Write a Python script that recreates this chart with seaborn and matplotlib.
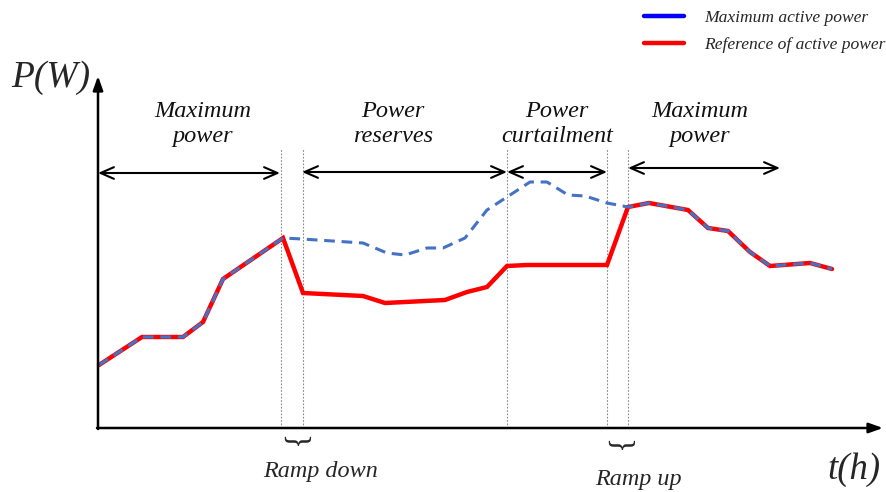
import matplotlib
matplotlib.use("Agg")
import matplotlib.pyplot as plt
import seaborn as sns
from matplotlib.lines import Line2D

sns.set_theme(style="white")
plt.rcParams['font.family'] = ['Liberation Serif', 'DejaVu Serif']

# ---- data (time in h, power in W) ----
t_ref = [0.1, 4.4, 8.5, 10.5, 12.5, 18.5, 20.5, 26.5, 28.7, 34.7, 36.9, 38.9, 40.9,
         42.9, 50.9, 53.0, 55.1, 59.0, 61.0, 63.0, 65.2, 67.2, 71.2, 73.4]
p_ref = [6.3, 9.1, 9.1, 10.6, 14.9, 19.0, 13.5, 13.2, 12.5, 12.8, 13.6, 14.1, 16.2,
         16.3, 16.3, 22.1, 22.5, 21.8, 20.0, 19.7, 17.6, 16.2, 16.5, 15.9]

t_max = [0.1, 4.4, 8.5, 10.5, 12.5, 18.5, 20.4, 26.5, 28.9, 30.7, 32.9, 34.5, 36.7,
         38.9, 40.9, 43.2, 44.9, 47.0, 48.7, 50.9, 53.0, 55.1, 59.0, 61.0, 63.0,
         65.2, 67.2, 71.2, 73.4]
p_max = [6.3, 9.1, 9.1, 10.6, 14.9, 19.0, 18.9, 18.5, 17.5, 17.3, 18.0, 18.0, 19.0,
         21.8, 23.1, 24.6, 24.6, 23.3, 23.2, 22.5, 22.1, 22.5, 21.8, 20.0, 19.7,
         17.6, 16.2, 16.5, 15.9]

boundaries = [18.3, 20.5, 40.9, 50.9, 53.0]
mode_labels = ["Maximum\npower", "Power\nreserves", "Power\ncurtailment", "Maximum\npower"]
mode_spans = [(0.0, 18.2), (20.4, 40.9), (40.9, 50.9), (53.0, 68.2)]
mode_label_x = [10.5, 29.5, 45.9, 60.2]
mode_arrow_y = [25.5, 25.6, 25.6, 26.0]

legend_labels = ["Maximum active power", "Reference of active power"]

# ---- figure ----
fig = plt.figure(figsize=(8.86, 4.92), dpi=100)
ax = fig.add_axes([0, 0, 1, 1])
ax.set_xlim(-9.8, 78.8)
ax.set_ylim(-6.4, 42.8)
ax.axis('off')

# boundary dotted lines
for b in boundaries:
    ax.plot([b, b], [0, 28], color='#888888', lw=0.8, ls=(0, (1.5, 1.5)), zorder=1)

# curves
sns.lineplot(x=t_ref, y=p_ref, ax=ax, color='#FF0000', lw=3.2, estimator=None,
             sort=False, zorder=3, solid_joinstyle='miter')
sns.lineplot(x=t_max, y=p_max, ax=ax, color='#4472C4', lw=2.2, estimator=None,
             sort=False, zorder=4, linestyle=(0, (3.5, 2.2)))

# axes with arrows
ax.annotate('', xy=(0, 35.2), xytext=(0, -0.1),
            arrowprops=dict(arrowstyle='-|>,head_length=0.7,head_width=0.25',
                            lw=1.8, color='black', shrinkA=0, shrinkB=0), zorder=5)
ax.annotate('', xy=(78.5, 0), xytext=(-0.1, 0),
            arrowprops=dict(arrowstyle='-|>,head_length=0.7,head_width=0.25',
                            lw=1.8, color='black', shrinkA=0, shrinkB=0), zorder=5)

# mode arrows and labels
for (a, b), y, lab, lx in zip(mode_spans, mode_arrow_y, mode_labels, mode_label_x):
    ax.annotate('', xy=(b, y), xytext=(a, y),
                arrowprops=dict(arrowstyle='<->,head_length=0.8,head_width=0.35',
                                lw=1.5, color='black', shrinkA=0, shrinkB=0))
    ax.text(lx, 30.4, lab, ha='center', va='center', style='italic',
            fontsize=17.5, linespacing=1.2, color='#111111')

# axis labels
ax.text(-0.8, 35.0, 'P(W)', ha='right', va='center', style='italic', fontsize=27)
ax.text(75.6, -4.2, 't(h)', ha='center', va='center', style='italic', fontsize=26.5)

# ramp braces and labels
ax.text(19.5, -1.4, '}', rotation=-90, ha='center', va='center', fontsize=22)
ax.text(51.9, -1.8, '}', rotation=-90, ha='center', va='center', fontsize=22)
ax.text(22.3, -4.4, 'Ramp down', ha='center', va='center', style='italic', fontsize=17.4)
ax.text(54.0, -5.2, 'Ramp up', ha='center', va='center', style='italic', fontsize=17.4)

# legend
handles = [Line2D([], [], color='#0000FF', lw=3.2, solid_capstyle='round'),
           Line2D([], [], color='#FF0000', lw=3.2, solid_capstyle='round')]
leg = ax.legend(handles, legend_labels, loc='upper right', bbox_to_anchor=(0.999, 0.98),
                frameon=False, handlelength=2.3, handletextpad=1.1, labelspacing=0.6,
                borderpad=0, borderaxespad=0,
                prop={'style': 'italic', 'size': 12.6, 'family': 'Liberation Serif'})

fig.savefig('out.png', dpi=100)
